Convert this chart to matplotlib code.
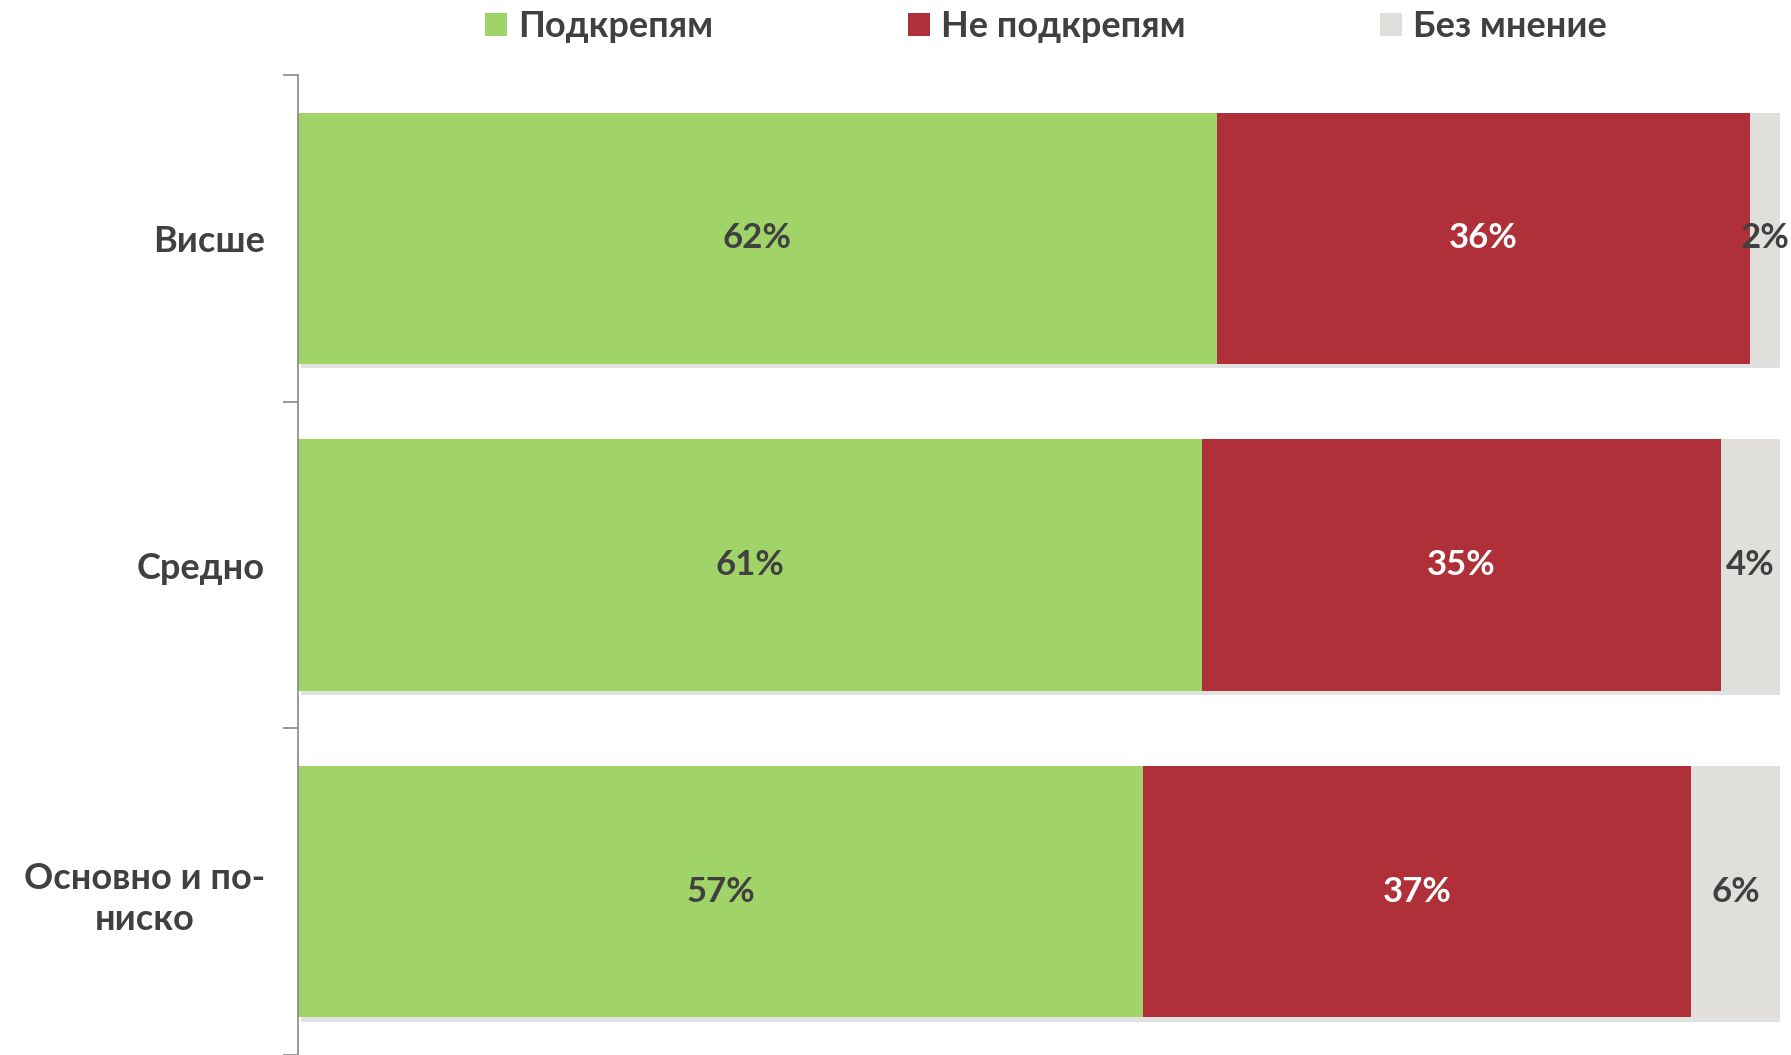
import matplotlib
matplotlib.use('Agg')
import numpy as np
from matplotlib import pyplot as plt
from matplotlib import patheffects as pe
from matplotlib.patches import Patch

categories = ['Висше', 'Средно', 'Основно и по-\nниско']
series = ['Подкрепям', 'Не подкрепям', 'Без мнение']
support = [62, 61, 57]
against = [36, 35, 37]
no_opinion = [2, 4, 6]

colors = ['#A1D468', '#AF3039', '#E1DFDB']
label_colors = ['#404040', 'white', '#404040']
text_col = '#404040'

plt.rcParams['font.family'] = ['Lato', 'DejaVu Sans']

fig = plt.figure(figsize=(17.91, 10.55), dpi=100)
ax = fig.add_axes([0.1664, 0.0, 0.8275, 0.9289])

y = np.arange(len(categories))
left = np.zeros(len(categories))
shadow = [pe.SimplePatchShadow(offset=(2, -3), shadow_rgbFace='#aaaaaa', alpha=0.35), pe.Normal()]
for vals, col, tcol in zip([support, against, no_opinion], colors, label_colors):
    bars = ax.barh(y, vals, left=left, height=0.77, color=col, edgecolor='none')
    for b, v in zip(bars, vals):
        b.set_path_effects(shadow)
        ax.text(b.get_x() + b.get_width() / 2, b.get_y() + b.get_height() / 2, f'{v}%',
                ha='center', va='center', fontsize=25, fontweight='bold', color=tcol)
    left = left + np.array(vals)

ax.set_xlim(0, 100)
ax.set_ylim(len(categories) - 0.5, -0.5)

ax.set_yticks(np.arange(len(categories) + 1) - 0.5)
ax.set_yticklabels([])
ax.set_yticks(y, minor=True)
ax.set_yticklabels(categories, minor=True, fontsize=26, fontweight='bold', color=text_col,
                   multialignment='center', linespacing=1.3)
ax.tick_params(axis='y', which='major', length=11, width=1.2, color='#888888', direction='out')
ax.tick_params(axis='y', which='minor', length=0, pad=24)
ax.set_xticks([])
for s in ['top', 'right', 'bottom']:
    ax.spines[s].set_visible(False)
ax.spines['left'].set_color('#888888')
ax.spines['left'].set_linewidth(1.2)

handles = [Patch(facecolor=c, edgecolor='none') for c in colors]
fig.legend(handles, series, loc='center', bbox_to_anchor=(0.584, 0.975), ncol=3, frameon=False,
           prop={'size': 26, 'weight': 'bold'}, labelcolor=text_col, handlelength=0.6,
           handleheight=0.6, handletextpad=0.3, columnspacing=5.4)

fig.savefig('out.png', dpi=100)
